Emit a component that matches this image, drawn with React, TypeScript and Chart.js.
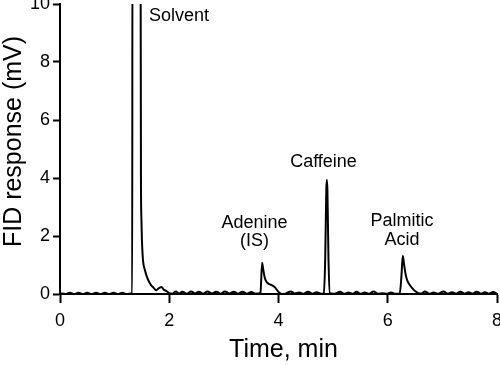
import React, { useEffect, useRef } from "react";
import { Chart, registerables } from "chart.js";

Chart.register(...registerables);

const timeMin: number[] = [
  0.0, 0.1, 0.18, 0.26, 0.34, 0.42, 0.5, 0.58, 0.66, 0.74, 0.82, 0.9, 0.98, 1.06, 1.14, 1.22, 1.3, 1.322,
  1.326, 1.474, 1.482, 1.49, 1.5, 1.52, 1.55, 1.59, 1.63, 1.67, 1.71, 1.76, 1.81, 1.86, 1.9, 1.95,
  2.0, 2.06, 2.12, 2.18, 2.24, 2.32, 2.4, 2.47, 2.54, 2.62, 2.7, 2.78, 2.86, 2.94, 3.02, 3.1, 3.18, 3.26,
  3.34, 3.42, 3.5, 3.58, 3.64, 3.67, 3.7, 3.72, 3.75, 3.78, 3.82, 3.86, 3.9, 3.94, 3.98, 4.02, 4.06,
  4.14, 4.22, 4.3, 4.38, 4.46, 4.54, 4.62, 4.7, 4.78, 4.83, 4.855, 4.875, 4.885, 4.895, 4.915, 4.94,
  5.0, 5.06, 5.13, 5.2, 5.28, 5.36, 5.43, 5.5, 5.58, 5.66, 5.74, 5.82, 5.9, 5.98, 6.06, 6.14, 6.22,
  6.25, 6.275, 6.3, 6.33, 6.36, 6.4, 6.45, 6.5, 6.56, 6.62, 6.68, 6.76, 6.84, 6.92, 7.02, 7.1, 7.18,
  7.25, 7.33, 7.41, 7.48, 7.55, 7.63, 7.71, 7.78, 7.85, 7.93, 8.0,
];

const signalMV: number[] = [
  0.03, 0.0, 0.04, 0.0, 0.04, 0.0, 0.04, 0.0, 0.04, 0.0, 0.04, 0.0, 0.04, 0.0, 0.04, 0.0, 0.02, 0.0,
  13, 13, 4.0, 2.6, 1.85, 1.15, 0.85, 0.6, 0.42, 0.3, 0.22, 0.13, 0.2, 0.24, 0.15, 0.1,
  0.03, 0.01, 0.09, 0.02, 0.08, 0.01, 0.09, 0.02, 0.08, 0.01, 0.09, 0.02, 0.08, 0.01, 0.09, 0.02, 0.08, 0.01,
  0.08, 0.01, 0.07, 0.01, 0.02, 0.05, 1.08, 0.85, 0.55, 0.42, 0.35, 0.32, 0.28, 0.22, 0.12, 0.04, 0.0,
  0.02, 0.09, 0.02, 0.05, 0.01, 0.08, 0.01, 0.06, 0.01, 0.02, 1.2, 3.6, 3.94, 3.6, 1.2, 0.03,
  0.01, 0.03, 0.08, 0.01, 0.05, 0.01, 0.08, 0.01, 0.05, 0.01, 0.09, 0.01, 0.03, 0.01, 0.05, 0.01, 0.02,
  0.6, 1.32, 1.0, 0.65, 0.45, 0.32, 0.2, 0.1, 0.03, 0.02, 0.09, 0.01, 0.05, 0.01, 0.09, 0.01, 0.06,
  0.01, 0.08, 0.01, 0.06, 0.01, 0.08, 0.01, 0.06, 0.01, 0.07, 0.01,
];

const xTicks: number[] = [0, 2, 4, 6, 8];
const yTicks: number[] = [0, 2, 4, 6, 8, 10];

const peakLabels: { lines: string[]; x: number; y: number[]; align: CanvasTextAlign }[] = [
  { lines: ["Solvent"], x: 149, y: [20.5], align: "left" },
  { lines: ["Adenine", "(IS)"], x: 254.5, y: [228, 246], align: "center" },
  { lines: ["Caffeine"], x: 323.5, y: [167], align: "center" },
  { lines: ["Palmitic", "Acid"], x: 402, y: [226, 245], align: "center" },
];

const xTitle = "Time, min";
const yTitle = "FID response (mV)";
const FONT = "'Liberation Sans', Arial, Helvetica, sans-serif";

const zeroPad = (s: any) => {
  s.paddingTop = 0;
  s.paddingBottom = 0;
  s.paddingLeft = 0;
  s.paddingRight = 0;
};

export default function App() {
  const ref = useRef<HTMLCanvasElement | null>(null);

  useEffect(() => {
    if (!ref.current) return;
    const textPlugin = {
      id: "texts",
      afterDraw(chart: any) {
        const ctx = chart.ctx as CanvasRenderingContext2D;
        ctx.save();
        ctx.fillStyle = "#000";
        ctx.font = `18px ${FONT}`;
        ctx.textBaseline = "alphabetic";
        for (const l of peakLabels) {
          ctx.textAlign = l.align;
          l.lines.forEach((t, i) => ctx.fillText(t, l.x, l.y[i]));
        }
        ctx.font = `25px ${FONT}`;
        ctx.textAlign = "center";
        ctx.fillText(xTitle, 283.5, 357);
        ctx.translate(21, 141.5);
        ctx.rotate(-Math.PI / 2);
        ctx.fillText(yTitle, 0, 0);
        ctx.restore();
      },
    };

    const chart = new Chart(ref.current, {
      type: "line",
      data: {
        datasets: [
          {
            data: timeMin.map((t, i) => ({ x: t, y: signalMV[i] })),
            borderColor: "#000",
            borderWidth: 2,
            pointRadius: 0,
            fill: false,
            cubicInterpolationMode: "monotone",
          },
        ],
      },
      options: {
        animation: false,
        responsive: false,
        events: [],
        layout: { padding: { top: 4, right: 3, left: 0, bottom: 0 }, autoPadding: false },
        plugins: { legend: { display: false }, tooltip: { enabled: false } },
        scales: {
          x: {
            type: "linear",
            min: 0,
            max: 8,
            afterFit: (s: any) => {
              s.height = 71;
              zeroPad(s);
            },
            afterBuildTicks: (s: any) => {
              s.ticks = xTicks.map((v) => ({ value: v }));
            },
            ticks: {
              color: "#000",
              font: { family: FONT, size: 18 },
              padding: 7,
              maxRotation: 0,
            },
            grid: {
              drawOnChartArea: false,
              drawTicks: true,
              tickLength: 9,
              tickWidth: 2,
              tickColor: "#000",
            },
            border: { display: true, color: "#000", width: 2 },
          },
          y: {
            type: "linear",
            min: 0,
            max: 10,
            afterFit: (s: any) => {
              s.width = 60;
              zeroPad(s);
            },
            afterBuildTicks: (s: any) => {
              s.ticks = yTicks.map((v) => ({ value: v }));
            },
            ticks: {
              color: "#000",
              font: { family: FONT, size: 18 },
              padding: 3,
            },
            grid: {
              drawOnChartArea: false,
              drawTicks: true,
              tickLength: 7,
              tickWidth: 2,
              tickColor: "#000",
            },
            border: { display: true, color: "#000", width: 2 },
          },
        },
      },
      plugins: [textPlugin],
    });
    return () => chart.destroy();
  }, []);

  return (
    <div style={{ position: "absolute", left: 0, top: 0, width: 500, height: 365, background: "#fff" }}>
      <canvas ref={ref} width={500} height={365} style={{ display: "block" }} />
    </div>
  );
}
